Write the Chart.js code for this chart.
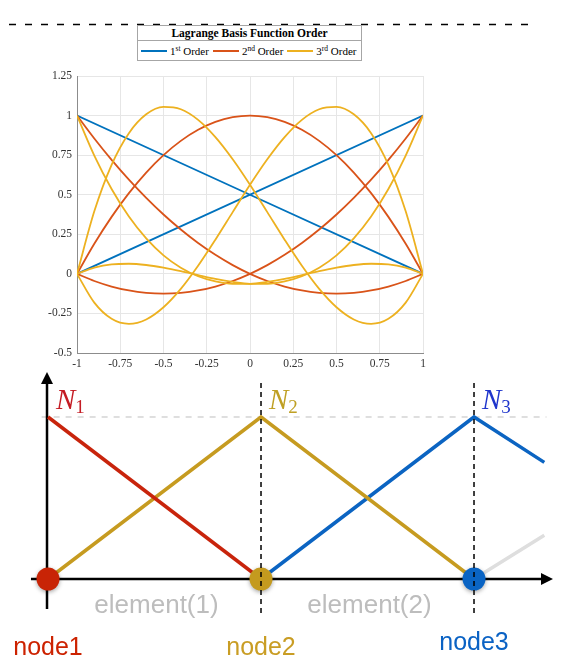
<!DOCTYPE html>
<html>
<head>
<meta charset="utf-8">
<script src="https://cdn.jsdelivr.net/npm/chart.js@4.4.0/dist/chart.umd.min.js"></script>
<style>
  body { margin: 0; background: #fff; width: 583px; height: 672px; position: relative; overflow: hidden; }
  canvas { position: absolute; left: 0; }
  #top { top: 0; }
  #bottom { top: 370px; }
  #leyenda {
    position: absolute; left: 137px; top: 25px; width: 223px; height: 34px;
    border: 1px solid #a6a6a6; background: #fff;
    font-family: "Liberation Serif", serif; color: #000;
  }
  #leyenda .titulo { height: 14px; border-bottom: 1px solid #a6a6a6; text-align: center;
    font-weight: bold; font-size: 11.5px; line-height: 15px; }
  #leyenda .fila { display: flex; align-items: center; height: 19px; padding-left: 3px; font-size: 11px; white-space: nowrap; }
  #leyenda .linea { display: inline-block; width: 26px; height: 2px; margin-right: 3px; }
  #leyenda .item { margin-right: 4px; }
  #leyenda sup { font-size: 7.5px; vertical-align: 4px; line-height: 0; }
</style>
</head>
<body>
<canvas id="top" width="583" height="372"></canvas>
<div id="leyenda">
  <div class="titulo">Lagrange Basis Function Order</div>
  <div class="fila">
    <span class="linea" style="background:#0072BD"></span><span class="item">1<sup>st</sup> Order</span>
    <span class="linea" style="background:#D95319"></span><span class="item">2<sup>nd</sup> Order</span>
    <span class="linea" style="background:#EDB120"></span><span class="item">3<sup>rd</sup> Order</span>
  </div>
</div>
<canvas id="bottom" width="583" height="302"></canvas>
<script>
// --- datos de la grafica de arriba (funciones de Lagrange) ---
var xTicks = [-1, -0.75, -0.5, -0.25, 0, 0.25, 0.5, 0.75, 1];
var yTicks = [-0.5, -0.25, 0, 0.25, 0.5, 0.75, 1, 1.25];

var xLin = [-1, 1];
var lin1 = [1, 0];
var lin2 = [0, 1];

var xs = [-1, -0.9, -0.8, -0.7, -0.6, -0.5, -0.4, -0.3, -0.2, -0.1, 0, 0.1, 0.2, 0.3, 0.4, 0.5, 0.6, 0.7, 0.8, 0.9, 1];
var quad1 = [1, 0.855, 0.72, 0.595, 0.48, 0.375, 0.28, 0.195, 0.12, 0.055, 0, -0.045, -0.08, -0.105, -0.12, -0.125, -0.12, -0.105, -0.08, -0.045, 0];
var quad2 = [0, 0.19, 0.36, 0.51, 0.64, 0.75, 0.84, 0.91, 0.96, 0.99, 1, 0.99, 0.96, 0.91, 0.84, 0.75, 0.64, 0.51, 0.36, 0.19, 0];
var quad3 = [0, -0.045, -0.08, -0.105, -0.12, -0.125, -0.12, -0.105, -0.08, -0.045, 0, 0.055, 0.12, 0.195, 0.28, 0.375, 0.48, 0.595, 0.72, 0.855, 1];
var cub1 = [1, 0.747, 0.536, 0.362, 0.224, 0.117, 0.039, -0.015, -0.048, -0.063, -0.063, -0.051, -0.032, -0.008, 0.017, 0.039, 0.056, 0.064, 0.06, 0.039, 0];
var cub2 = [0, 0.395, 0.689, 0.889, 1.008, 1.055, 1.04, 0.973, 0.864, 0.724, 0.563, 0.39, 0.216, 0.051, -0.095, -0.211, -0.288, -0.316, -0.284, -0.182, 0];
var cub3 = [0, -0.182, -0.284, -0.316, -0.288, -0.211, -0.095, 0.051, 0.216, 0.39, 0.563, 0.724, 0.864, 0.973, 1.04, 1.055, 1.008, 0.889, 0.689, 0.395, 0];
var cub4 = [0, 0.039, 0.06, 0.064, 0.056, 0.039, 0.017, -0.008, -0.032, -0.051, -0.063, -0.063, -0.048, -0.015, 0.039, 0.117, 0.224, 0.362, 0.536, 0.747, 1];

// --- datos de la grafica de abajo (funciones sombrero) ---
var nodeX = [0, 1, 2];
var nodeNames = ['node1', 'node2', 'node3'];
var elementNames = ['element(1)', 'element(2)'];
var shapeNames = ['1', '2', '3'];
var hat1X = [0, 1];
var hat1 = [1, 0];
var hat2X = [0, 1, 2];
var hat2 = [0, 1, 0];
var hat3X = [1, 2, 2.33];
var hat3 = [0, 1, 0.72];
var hat4X = [2, 2.33];
var hat4 = [0, 0.27];

var rojo = '#c8240c', oro = '#c69b20', azul = '#0b64c2';

function puntos(x, y) {
    var res = [];
    for (var i = 0; i < x.length; i++) res.push({ x: x[i], y: y[i] });
    return res;
}

function serie(x, y, color, orden) {
    return {
        data: puntos(x, y), borderColor: color, borderWidth: 1.8, pointRadius: 0,
        cubicInterpolationMode: 'monotone', fill: false, order: orden
    };
}

var lineaPunteada = {
    id: 'lineaPunteada',
    beforeDraw: function (c) {
        var ctx = c.ctx;
        ctx.save();
        ctx.strokeStyle = '#000';
        ctx.lineWidth = 1.5;
        ctx.setLineDash([7, 9]);
        ctx.beginPath();
        ctx.moveTo(-7, 24.5);
        ctx.lineTo(528, 24.5);
        ctx.stroke();
        ctx.restore();
    }
};

var fuenteEje = { family: 'Liberation Serif', size: 11.5 };

new Chart(document.getElementById('top'), {
    type: 'line',
    data: {
        datasets: [
            serie(xLin, lin1, '#0072BD', 3),
            serie(xLin, lin2, '#0072BD', 3),
            serie(xs, quad1, '#D95319', 2),
            serie(xs, quad2, '#D95319', 2),
            serie(xs, quad3, '#D95319', 2),
            serie(xs, cub1, '#EDB120', 1),
            serie(xs, cub2, '#EDB120', 1),
            serie(xs, cub3, '#EDB120', 1),
            serie(xs, cub4, '#EDB120', 1)
        ]
    },
    options: {
        responsive: false,
        animation: false,
        layout: { autoPadding: false, padding: { left: 0, right: 160, top: 76, bottom: 0 } },
        plugins: { legend: { display: false }, tooltip: { enabled: false } },
        scales: {
            x: {
                type: 'linear', min: -1, max: 1,
                afterBuildTicks: function (s) { s.ticks = xTicks.map(function (v) { return { value: v }; }); },
                afterFit: function (s) { s.height = 19; },
                ticks: { color: '#333', font: fuenteEje, padding: 4, maxRotation: 0, callback: function (v) { return String(v); } },
                grid: { color: '#e6e6e6', drawTicks: false },
                border: { color: '#8c8c8c' }
            },
            y: {
                type: 'linear', min: -0.5, max: 1.25,
                afterBuildTicks: function (s) { s.ticks = yTicks.map(function (v) { return { value: v }; }); },
                afterFit: function (s) { s.width = 77; },
                ticks: { color: '#333', font: fuenteEje, padding: 5, callback: function (v) { return String(v); } },
                grid: { color: '#e6e6e6', drawTicks: false },
                border: { color: '#8c8c8c' }
            }
        }
    },
    plugins: [lineaPunteada]
});

// ---------- grafica de abajo ----------
function flecha(ctx, x, y, dx, dy) {
    var L = 12, W = 6;
    ctx.beginPath();
    ctx.moveTo(x, y);
    ctx.lineTo(x - dx * L - dy * W, y - dy * L + dx * W);
    ctx.lineTo(x - dx * L + dy * W, y - dy * L - dx * W);
    ctx.closePath();
    ctx.fill();
}

var dibujo = {
    id: 'dibujo',
    beforeDatasetsDraw: function (c) {
        var ctx = c.ctx, sx = c.scales.x, sy = c.scales.y;
        var y0 = sy.getPixelForValue(0), y1 = sy.getPixelForValue(1);
        var x0 = sx.getPixelForValue(0);
        ctx.save();
        // linea gris punteada del pico
        ctx.strokeStyle = '#d4d4d4';
        ctx.lineWidth = 1.5;
        ctx.setLineDash([6, 6]);
        ctx.beginPath();
        ctx.moveTo(sx.getPixelForValue(-0.03), y1);
        ctx.lineTo(sx.getPixelForValue(2.34), y1);
        ctx.stroke();
        ctx.setLineDash([]);
        // ejes
        ctx.strokeStyle = '#000';
        ctx.fillStyle = '#000';
        ctx.lineWidth = 2.5;
        ctx.beginPath();
        ctx.moveTo(x0 - 1, sy.getPixelForValue(-0.185));
        ctx.lineTo(x0 - 1, sy.getPixelForValue(1.22));
        ctx.moveTo(sx.getPixelForValue(-0.08), y0);
        ctx.lineTo(sx.getPixelForValue(2.32), y0);
        ctx.stroke();
        flecha(ctx, x0 - 1, sy.getPixelForValue(1.278), 0, -1);
        flecha(ctx, sx.getPixelForValue(2.371), y0, 1, 0);
        ctx.restore();
    },
    beforeDatasetDraw: function (c, args) {
        if (args.index === 4) {
            c.ctx.save();
            c.ctx.shadowColor = 'rgba(0,0,0,0.35)';
            c.ctx.shadowBlur = 4;
            c.ctx.shadowOffsetY = 1.5;
        }
    },
    afterDatasetDraw: function (c, args) {
        if (args.index === 4) c.ctx.restore();
    },
    afterDatasetsDraw: function (c) {
        var ctx = c.ctx, sx = c.scales.x, sy = c.scales.y;
        var y0 = sy.getPixelForValue(0), y1 = sy.getPixelForValue(1);
        ctx.save();
        // lineas verticales punteadas en los nodos interiores
        ctx.strokeStyle = '#000';
        ctx.lineWidth = 1.5;
        ctx.setLineDash([5, 4]);
        for (var i = 1; i < nodeX.length; i++) {
            var px = sx.getPixelForValue(nodeX[i]);
            ctx.beginPath();
            ctx.moveTo(px, sy.getPixelForValue(1.21));
            ctx.lineTo(px, sy.getPixelForValue(-0.222));
            ctx.stroke();
        }
        ctx.setLineDash([]);

        var colNodo = ['#cc2200', '#c99d24', '#0a62c4'];
        var colN = ['#c41c24', '#bfa024', '#1f35cc'];

        // etiquetas de elementos
        ctx.font = '26px "Liberation Sans"';
        ctx.fillStyle = '#bdbdbd';
        ctx.textAlign = 'center';
        ctx.textBaseline = 'alphabetic';
        for (var e = 0; e < elementNames.length; e++) {
            var mx = (sx.getPixelForValue(nodeX[e]) + sx.getPixelForValue(nodeX[e + 1])) / 2;
            ctx.fillText(elementNames[e], mx + 2, y0 + 34);
        }
        // etiquetas de nodos
        ctx.font = '25px "Liberation Sans"';
        for (var n = 0; n < nodeNames.length; n++) {
            ctx.fillStyle = colNodo[n];
            ctx.fillText(nodeNames[n], sx.getPixelForValue(nodeX[n]), y0 + (n === 2 ? 71 : 76));
        }
        // N_i
        ctx.textAlign = 'left';
        for (var k = 0; k < shapeNames.length; k++) {
            var bx = sx.getPixelForValue(nodeX[k]) + 8;
            var by = y1 - 8;
            ctx.fillStyle = colN[k];
            ctx.font = 'italic 29px "Liberation Serif"';
            ctx.fillText('N', bx, by);
            var w = ctx.measureText('N').width;
            ctx.font = '19px "Liberation Serif"';
            ctx.fillText(shapeNames[k], bx + w, by + 4);
        }
        ctx.restore();
    }
};

function hat(x, y, color) {
    return { data: puntos(x, y), borderColor: color, borderWidth: 3.5, pointRadius: 0, tension: 0, fill: false, clip: false };
}

new Chart(document.getElementById('bottom'), {
    type: 'line',
    data: {
        datasets: [
            hat(hat1X, hat1, rojo),
            hat(hat2X, hat2, oro),
            hat(hat3X, hat3, azul),
            hat(hat4X, hat4, '#dedede'),
            {
                data: puntos(nodeX, [0, 0, 0]), showLine: false, pointRadius: 11.5, pointBorderWidth: 0,
                pointBackgroundColor: ['#c82406', '#c49a1e', '#0a64c4'], clip: false, order: -1
            }
        ]
    },
    options: {
        responsive: false,
        animation: false,
        layout: { autoPadding: false, padding: 0 },
        plugins: { legend: { display: false }, tooltip: { enabled: false } },
        scales: {
            x: { type: 'linear', display: false, min: -0.2254, max: 2.5117 },
            y: { type: 'linear', display: false, min: -0.5741, max: 1.2901 }
        }
    },
    plugins: [dibujo]
});
</script>
</body>
</html>
